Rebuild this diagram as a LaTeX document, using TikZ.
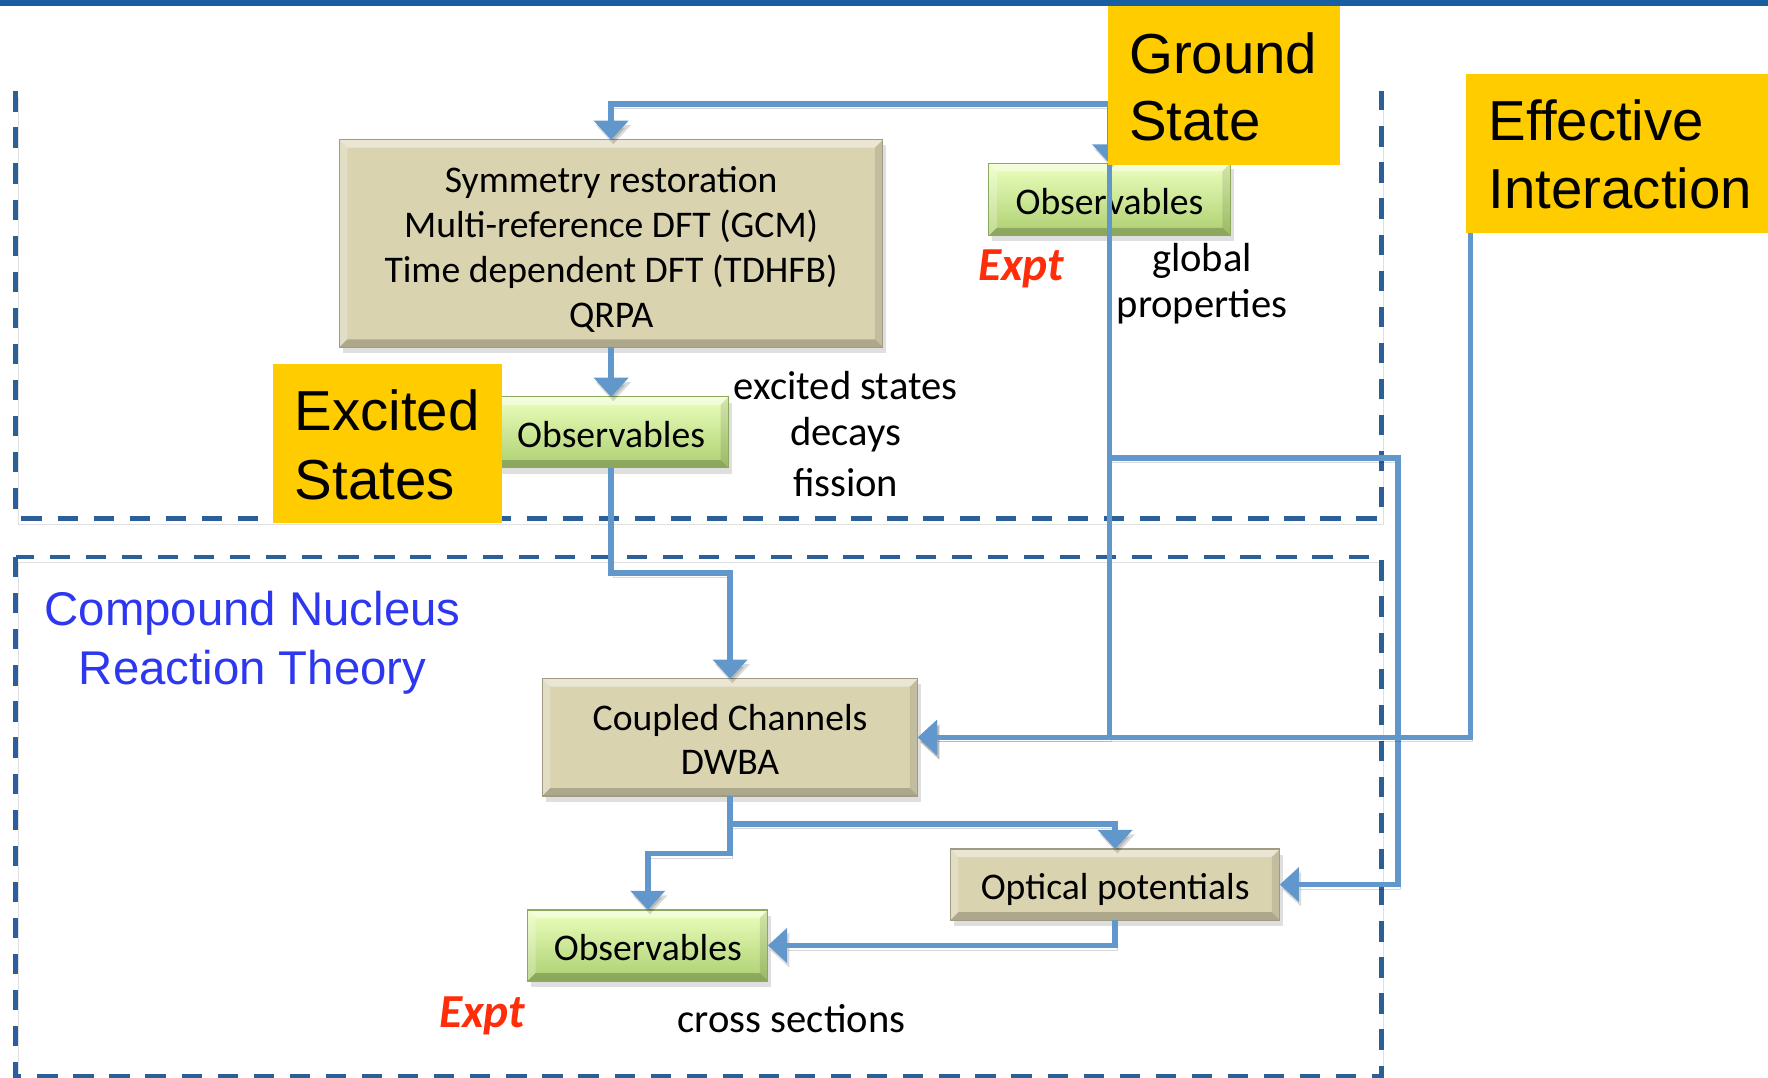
\documentclass[tikz,border=0pt]{standalone}
\usepackage{fontspec}
\setmainfont{Carlito}
\newfontfamily\arialf{Liberation Sans}
\usetikzlibrary{arrows.meta,shadows,calc}
\definecolor{cblue}{RGB}{98,151,204}
\definecolor{dblue}{RGB}{43,95,151}
\definecolor{topbar}{RGB}{24,94,160}
\definecolor{tanfill}{RGB}{217,211,176}
\definecolor{tanedge}{RGB}{160,155,130}
\definecolor{gtop}{RGB}{236,255,190}
\definecolor{gbot}{RGB}{172,207,112}
\definecolor{gedge}{RGB}{140,170,95}
\definecolor{gold}{RGB}{255,204,0}
\definecolor{cnblue}{RGB}{45,55,240}
\definecolor{exred}{RGB}{255,45,10}
\tikzset{
 bevel/.style={path picture={
  \fill[white,opacity=0.45] (path picture bounding box.north west) -- (path picture bounding box.north east) -- ([shift={(-3.5pt,-3.5pt)}]path picture bounding box.north east) -- ([shift={(3.5pt,-3.5pt)}]path picture bounding box.north west) -- cycle;
  \fill[white,opacity=0.25] (path picture bounding box.north west) -- ([shift={(3.5pt,-3.5pt)}]path picture bounding box.north west) -- ([shift={(3.5pt,3.5pt)}]path picture bounding box.south west) -- (path picture bounding box.south west) -- cycle;
  \fill[black,opacity=0.2] (path picture bounding box.south west) -- ([shift={(3.5pt,3.5pt)}]path picture bounding box.south west) -- ([shift={(-3.5pt,3.5pt)}]path picture bounding box.south east) -- (path picture bounding box.south east) -- cycle;
  \fill[black,opacity=0.1] (path picture bounding box.north east) -- (path picture bounding box.south east) -- ([shift={(-3.5pt,3.5pt)}]path picture bounding box.south east) -- ([shift={(-3.5pt,-3.5pt)}]path picture bounding box.north east) -- cycle;
 }},
 boxbase/.style={inner sep=0pt, outer sep=0pt, align=center, bevel,
   drop shadow={opacity=0.25,shadow xshift=1.5pt,shadow yshift=-2.5pt},
   font=\fontsize{16.7}{20}\selectfont},
 oneline/.style={text height=13pt, text depth=0pt},
 tanbox/.style={boxbase, draw=tanedge, line width=0.5pt, fill=tanfill},
 greenbox/.style={boxbase, oneline, draw=gedge, line width=0.5pt, top color=gtop, bottom color=gbot},
 yellowbox/.style={fill=gold, inner sep=0pt, outer sep=0pt},
 ytext/.style={inner sep=0pt, anchor=base west, font=\arialf\fontsize{25}{30}\selectfont},
 plaintext/.style={inner sep=0pt, anchor=base, font=\fontsize{18}{21}\selectfont},
 expttext/.style={inner sep=0pt, anchor=base west, text=exred, font=\fontsize{21}{24}\selectfont\bfseries\itshape},
 cntext/.style={inner sep=0pt, anchor=base, text=cnblue, font=\arialf\fontsize{21}{25}\selectfont},
 dashbox/.style={draw=dblue, line width=2.2pt, dash pattern=on 9pt off 7pt,
   preaction={draw=black, opacity=0.12, transform canvas={shift={(1pt,-2.5pt)}}}},
 cline/.style={draw=cblue, line width=2.5pt,
   preaction={draw=black, opacity=0.15, transform canvas={shift={(1pt,-2pt)}}}},
 conn/.style={cline, -{Triangle[width=15pt,length=8.5pt]}}
}
\begin{document}
\begin{tikzpicture}[x=0.5pt,y=-0.5pt]
\useasboundingbox (0,0) rectangle (1568,956);
\fill[topbar] (0,0) rectangle (1568,5);
% dashed regions
\draw[dashbox] (14,81) -- (14,460) -- (1225,460) -- (1225,81);
\draw[dashbox] (14,494) rectangle (1225,955);
% process boxes
\node[tanbox, minimum width=241pt, minimum height=92pt] (sym) at (542,216)
  {\rule{0pt}{16.5pt}Symmetry restoration\\Multi-reference DFT (GCM)\\Time dependent DFT (TDHFB)\\QRPA};
\node[greenbox, minimum width=107pt, minimum height=32pt] (obsgs) at (984,177) {Observables};
\node[greenbox, minimum width=104pt, minimum height=31.5pt] (obsex) at (542,383.5) {Observables};
\node[tanbox, minimum width=166.5pt, minimum height=52pt, font=\fontsize{16.7}{19.5}\selectfont] (cc) at (647.5,654)
  {\rule{0pt}{13pt}Coupled Channels\\DWBA};
\node[tanbox, oneline, minimum width=146pt, minimum height=31.5pt] (op) at (989,784.5) {Optical potentials};
\node[greenbox, minimum width=106.5pt, minimum height=31.5pt] (obsb) at (574.5,838.5) {Observables};
% free texts
\node[plaintext] (ex1) at (750,354) {excited states};
\node[plaintext] (ex2) at (750,395) {decays};
\node[plaintext] (ex3) at (750,440) {fission};
\node[plaintext] (gp1) at (1066,241) {global};
\node[plaintext] (gp2) at (1066,282) {properties};
\node[plaintext] (xs) at (702,916) {cross sections};
\node[expttext] (expt1) at (867,249) {Expt};
\node[expttext] (expt2) at (389,911) {Expt};
\node[cntext] (cn1) at (224,555) {Compound Nucleus};
\node[cntext] (cn2) at (224,607) {Reaction Theory};
% connectors
\coordinate (gsl) at (984,92);
\coordinate (b1) at (984,406);
\coordinate (rt) at (1240,406);
\coordinate (eiout) at (1304,207);
\coordinate (j1) at (0,508);
\coordinate (j2) at (0,731);
\coordinate (j3) at (0,757);
\draw[conn] (gsl) -| (sym.north);
\draw[conn] (gsl) -- (obsgs.north);
\draw[conn] (obsgs.north) -- (obsgs.north |- cc.east) -- (cc.east);
\draw[conn] (b1) -- (rt) |- (op.east);
\draw[conn] (eiout) |- (cc.east);
\draw[conn] (sym.south) -- (obsex.north);
\draw[conn] (obsex.south) -- (obsex.south |- j1) -| (cc.north);
\draw[conn] (cc.south) -- (cc.south |- j2) -| (op.north);
\draw[conn] (cc.south) -- (cc.south |- j3) -| (obsb.north);
\draw[conn] (op.south) |- (obsb.east);
% yellow label boxes
\node[yellowbox, minimum width=102.5pt, minimum height=70.5pt] (gs) at (1085.5,75.5) {};
\node[ytext] (gs1) at (1001,65) {Ground};
\node[ytext] (gs2) at (1001,125) {State};
\node[yellowbox, minimum width=134pt, minimum height=70.5pt] (ei) at (1434,136.5) {};
\node[ytext] (ei1) at (1320,125) {Effective};
\node[ytext] (ei2) at (1320,185) {Interaction};
\node[yellowbox, minimum width=101.5pt, minimum height=70.5pt] (es) at (343.5,393.5) {};
\node[ytext] (es1) at (261,382) {Excited};
\node[ytext] (es2) at (261,443) {States};
\end{tikzpicture}
\end{document}
